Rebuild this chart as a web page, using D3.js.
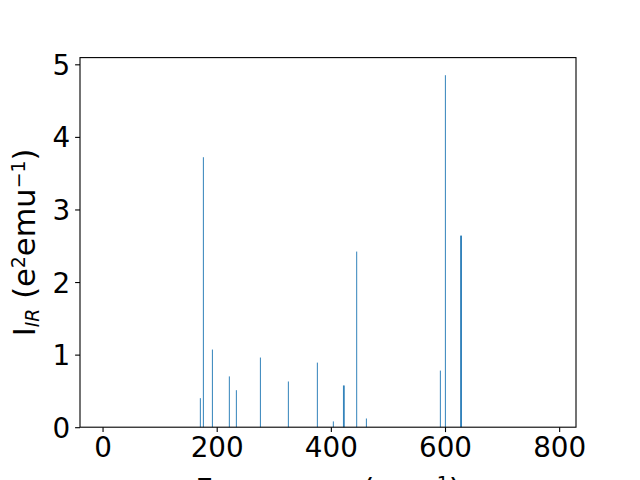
<!DOCTYPE html>
<html>
<head>
<meta charset="utf-8">
<script src="https://cdn.jsdelivr.net/npm/d3@7"></script>
<style>
  body { margin: 0; background: #fff; }
  text { font-family: 'DejaVu Sans', sans-serif; }
</style>
</head>
<body>
<div id="root"></div>
<script>
// IR spectrum lines (frequency in cm^-1, intensity in e^2 emu^-1)
const frequencies = [171.3, 176.6, 192.4, 222.1, 234.4, 276.5, 325.5, 376.3, 404.3, 422.0, 423.4, 445.3, 462.2, 591.8, 600.6, 627.4, 628.8];
const intensities = [0.40, 3.72, 1.07, 0.70, 0.51, 0.96, 0.63, 0.89, 0.08, 0.575, 0.575, 2.42, 0.12, 0.78, 4.85, 2.64, 2.64];
const xTicks = [0, 200, 400, 600, 800];
const yTicks = [0, 1, 2, 3, 4, 5];

const width = 640;
const height = 480;
const margin = { top: 57.6, right: 64, bottom: 52.8, left: 80 };
const graphWidth = width - margin.left - margin.right;
const graphHeight = height - margin.top - margin.bottom;
const fontSize = 27.8;
const labelSize = 30.5;

const svg = d3.select('#root').append('svg')
  .attr('width', width)
  .attr('height', height);

const xScale = d3.scaleLinear().domain([-39.5, 829.5]).range([0, graphWidth]);
const yScale = d3.scaleLinear().domain([0, 5.0925]).range([graphHeight, 0]);

const graph = svg.append('g')
  .attr('transform', `translate(${margin.left},${margin.top})`);

// bars
const barWidth = 1.6;
graph.selectAll('rect.bar')
  .data(frequencies)
  .enter()
  .append('rect')
  .attr('class', 'bar')
  .attr('x', (d) => xScale(d - barWidth / 2))
  .attr('width', (d) => xScale(barWidth) - xScale(0))
  .attr('y', (d, i) => yScale(intensities[i]))
  .attr('height', (d, i) => yScale(0) - yScale(intensities[i]))
  .attr('fill', '#1f77b4');

// axes
const xAxis = d3.axisBottom(xScale).tickValues(xTicks).tickFormat(d3.format('d')).tickSize(4.9).tickPadding(4.9);
const yAxis = d3.axisLeft(yScale).tickValues(yTicks).tickFormat(d3.format('d')).tickSize(4.9).tickPadding(4.9);

const xAxisGroup = graph.append('g')
  .attr('transform', `translate(0,${graphHeight})`)
  .call(xAxis);
const yAxisGroup = graph.append('g').call(yAxis);

[xAxisGroup, yAxisGroup].forEach((g) => {
  g.select('.domain').remove();
  g.selectAll('line').attr('stroke', '#000').attr('stroke-width', 1.1);
  g.selectAll('text')
    .attr('fill', '#000')
    .style('font-size', fontSize + 'px')
    .style('font-family', "'DejaVu Sans', sans-serif");
});
yAxisGroup.selectAll('text').attr('dy', '0.36em');

// frame
graph.append('rect')
  .attr('width', graphWidth)
  .attr('height', graphHeight)
  .attr('fill', 'none')
  .attr('stroke', '#000')
  .attr('stroke-width', 1.1);

// y label
const yLabel = svg.append('text')
  .attr('transform', `translate(35,${margin.top + graphHeight / 2}) rotate(-90)`)
  .attr('text-anchor', 'middle')
  .style('font-size', labelSize + 'px');
yLabel.append('tspan').text('I');
yLabel.append('tspan').attr('dy', '0.2em').style('font-size', '0.62em').style('font-style', 'oblique').text('IR');
yLabel.append('tspan').attr('dy', '-0.124em').text(' (e');
yLabel.append('tspan').attr('dy', '-0.55em').style('font-size', '0.62em').text('2');
yLabel.append('tspan').attr('dy', '0.341em').text('emu');
yLabel.append('tspan').attr('dy', '-0.55em').style('font-size', '0.62em').text('\u22121');
yLabel.append('tspan').attr('dy', '0.341em').text(')');

// x label
const xLabel = svg.append('text')
  .attr('x', margin.left + graphWidth / 2)
  .attr('y', 500)
  .attr('text-anchor', 'middle')
  .style('font-size', labelSize + 'px');
xLabel.append('tspan').text('Frequency (cm');
xLabel.append('tspan').attr('dy', '-0.55em').style('font-size', '0.62em').text('\u22121');
xLabel.append('tspan').attr('dy', '0.341em').text(')');
</script>
</body>
</html>
